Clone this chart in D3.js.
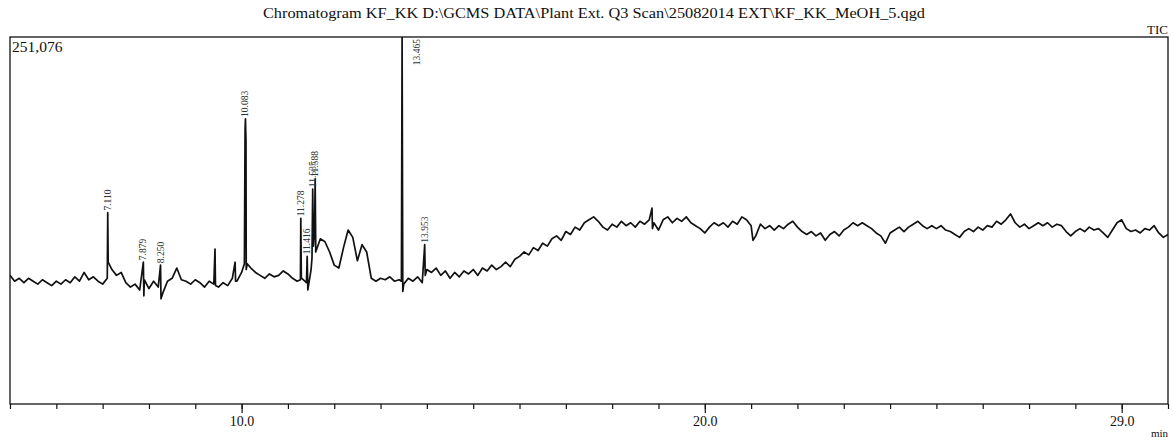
<!DOCTYPE html>
<html>
<head>
<meta charset="utf-8">
<script src="https://cdn.jsdelivr.net/npm/d3@7"></script>
<style>
  body { margin: 0; background: #fff; }
  text { font-family: "Liberation Serif", "Times New Roman", serif; fill: #111; }
</style>
</head>
<body>
<div id="chrom"></div>
<script>
// TIC trace, kcounts, one scan every 0.1 min from 5.0 min
const scanStart = 5.0;
const scanStep = 0.1;
const ticValues = [
  88, 84, 86, 83, 86, 84, 82, 85, 83, 81,
  84, 82, 85, 83, 87, 84, 90, 85, 87, 84,
  82, 86, 92, 88, 90, 83, 80, 82, 78, 85,
  79, 84, 80, 76, 84, 86, 93, 85, 84, 82,
  85, 83, 80, 84, 82, 80, 83, 81, 86, 84,
  90, 92, 93, 90, 88, 86, 89, 87, 88, 91,
  89, 86, 84, 86, 83, 92, 104, 113, 111, 104,
  95, 93, 107, 119, 114, 98, 109, 104, 86, 84,
  86, 85, 87, 84, 85, 82, 86, 84, 87, 83,
  92, 90, 93, 88, 91, 86, 90, 87, 91, 89,
  92, 88, 93, 91, 95, 92, 94, 97, 94, 99,
  101, 104, 102, 107, 105, 110, 108, 113, 115, 112,
  118, 116, 121, 119, 124, 126, 128, 125, 121, 119,
  123, 121, 125, 122, 124, 121, 125, 123, 126, 124,
  119, 126, 128, 124, 127, 125, 128, 124, 122, 120,
  117, 121, 124, 122, 124, 121, 125, 123, 128, 126,
  122, 115, 123, 120, 122, 119, 122, 120, 123, 125,
  121, 118, 116, 118, 115, 117, 112, 116, 118, 115,
  119, 121, 124, 122, 124, 122, 120, 117, 115, 110,
  117, 119, 121, 118, 121, 123, 125, 122, 120, 122,
  120, 122, 119, 118, 116, 114, 118, 120, 118, 121,
  119, 122, 121, 125, 123, 126, 130, 124, 121, 123,
  120, 122, 124, 122, 124, 121, 123, 122, 118, 115,
  118, 120, 118, 121, 119, 120, 117, 114, 119, 124,
  126, 120, 118, 119, 117, 120, 119, 122, 117, 114,
  116
];

// narrow spikes between scans: [min, kcounts]
const spikePoints = [
  [7.11, 131], [7.12, 97],
  [7.879, 97], [7.89, 74],
  [8.25, 95], [8.26, 72],
  [9.426, 106], [9.436, 81],
  [9.86, 97], [9.87, 84],
  [10.06, 96], [10.075, 188], [10.083, 195], [10.095, 180], [10.12, 96],
  [11.27, 85], [11.278, 127], [11.29, 86],
  [11.416, 101], [11.43, 78],
  [11.52, 100], [11.535, 147], [11.55, 108], [11.575, 118], [11.588, 154], [11.60, 110],
  [13.45, 84], [13.465, 251], [13.48, 77],
  [13.953, 109], [13.965, 88],
  [18.86, 134], [18.87, 120],
  [21.04, 112]
];

const peakTimes = [7.110, 7.879, 8.250, 10.083, 11.278, 11.416, 11.535, 11.588, 13.465, 13.953];
const peakLabels = ["7.110", "7.879", "8.250", "10.083", "11.278", "11.416", "11.535", "11.588", "13.465", "13.953"];
const peakLabelBase = [131, 97, 95, 195, 127, 101, 147, 154, 251, 109];

const minorTicks = [5, 6, 7, 8, 9, 10, 11, 12, 13, 14, 15, 16, 17, 18, 19, 20, 21, 22, 23, 24, 25, 26, 27, 28, 29, 30];
const majorTicks = [10, 20, 29];
const majorLabels = ["10.0", "20.0", "29.0"];

const drawChart = () => {
  const width = 1173;
  const height = 441;
  const left = 10, right = 1168, top = 37, bottom = 404;
  const yMax = 251.076;

  const xScale = d3.scaleLinear().domain([5, 30]).range([left, right]);
  const yScale = d3.scaleLinear().domain([0, yMax]).range([bottom, top]);

  const trace = ticValues.map((v, i) => [scanStart + i * scanStep, v])
                         .concat(spikePoints)
                         .sort((a, b) => a[0] - b[0]);

  const svg = d3.select("#chrom")
                .append("svg")
                .attr("width", width)
                .attr("height", height);

  svg.append("defs").append("clipPath").attr("id", "plot")
     .append("rect").attr("x", left).attr("y", top)
     .attr("width", right - left).attr("height", bottom - top);

  svg.append("text")
     .attr("x", 263).attr("y", 18)
     .attr("textLength", 662)
     .attr("lengthAdjust", "spacingAndGlyphs")
     .style("font-size", "14.5px")
     .text("Chromatogram KF_KK D:\\GCMS DATA\\Plant Ext. Q3 Scan\\25082014 EXT\\KF_KK_MeOH_5.qgd");

  svg.append("text")
     .attr("x", right).attr("y", 34)
     .attr("text-anchor", "end")
     .style("font-size", "13px")
     .text("TIC");

  svg.append("rect")
     .attr("x", left).attr("y", top)
     .attr("width", right - left).attr("height", bottom - top)
     .attr("fill", "none").attr("stroke", "#111").attr("stroke-width", 1.3);

  svg.append("text")
     .attr("x", left + 2).attr("y", top + 15)
     .style("font-size", "15.5px")
     .text("251,076");

  const line = d3.line().x((d) => xScale(d[0])).y((d) => yScale(d[1]));

  svg.append("path")
     .datum(trace)
     .attr("clip-path", "url(#plot)")
     .attr("d", line)
     .attr("fill", "none")
     .attr("stroke", "#111")
     .attr("stroke-width", 1.7)
     .attr("stroke-linejoin", "round");

  // retention time labels, rotated, above each peak (or beside it when off scale)
  svg.selectAll(".rt")
     .data(peakTimes)
     .enter()
     .append("text")
     .attr("class", "rt")
     .attr("transform", (d, i) => {
       const clipped = peakLabelBase[i] >= yMax - 1;
       const x = xScale(d) + (clipped ? 18 : 3);
       const y = clipped ? top + 2 : yScale(peakLabelBase[i]) - 2;
       return `translate(${x},${y}) rotate(-90)`;
     })
     .attr("text-anchor", (d, i) => peakLabelBase[i] >= yMax - 1 ? "end" : "start")
     .style("font-size", "9.5px")
     .style("fill", "#333")
     .text((d, i) => peakLabels[i]);

  const axis = svg.append("g").attr("transform", `translate(0,${bottom})`);
  axis.call(d3.axisBottom(xScale).tickValues(minorTicks).tickSize(5).tickFormat(""));
  axis.call((g) => g.select(".domain").remove());

  const major = svg.append("g").attr("transform", `translate(0,${bottom})`);
  major.call(d3.axisBottom(xScale).tickValues(majorTicks).tickSize(9)
       .tickFormat((d, i) => majorLabels[i]));
  major.select(".domain").remove();
  major.selectAll("text")
       .attr("y", 12)
       .style("font-family", "Liberation Serif, serif")
       .style("font-size", "14px")
       .style("fill", "#111");
  svg.selectAll(".tick line").attr("stroke", "#111").attr("stroke-width", 1.2);

  svg.append("text")
     .attr("x", 1168).attr("y", 437)
     .attr("text-anchor", "end")
     .style("font-size", "11px")
     .text("min");
};

drawChart();
</script>
</body>
</html>
